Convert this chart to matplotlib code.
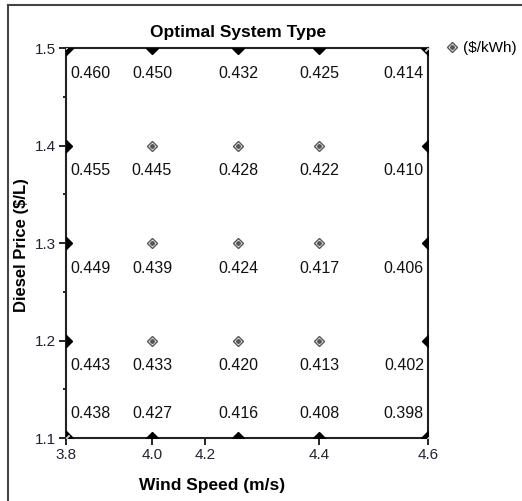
# -*- coding: utf-8 -*-

# %%
import numpy as np
import matplotlib.pyplot as plt
from matplotlib.lines import Line2D


# %% Data ---------------------------------------------------------------------
wind_speed = [3.8, 3.99, 4.18, 4.36, 4.6]          # m/s, sensitivity points
diesel_price = [1.5, 1.4, 1.3, 1.2, 1.1]           # $/L, rows top to bottom
coe = [[0.460, 0.450, 0.432, 0.425, 0.414],        # $/kWh
       [0.455, 0.445, 0.428, 0.422, 0.410],
       [0.449, 0.439, 0.424, 0.417, 0.406],
       [0.443, 0.433, 0.420, 0.413, 0.402],
       [0.438, 0.427, 0.416, 0.408, 0.398]]
# system type at each point: C corner, E edge, I interior
sys_type = ['CEEEC',
            'EIIIE',
            'EIIIE',
            'EIIIE',
            'CEEEC']
xtick_pos = [3.8, 3.99, 4.107, 4.36, 4.6]
xtick_lab = ['3.8', '4.0', '4.2', '4.4', '4.6']
ytick_pos = [1.1, 1.2, 1.3, 1.4, 1.5]


# %% Figure -------------------------------------------------------------------
plt.rcParams['font.family'] = ['Liberation Sans', 'DejaVu Sans']
W, H = 522, 501
fig = plt.figure(figsize=(W/100, H/100), dpi=100)
ax = fig.add_axes([66/W, 63/H, 362/W, 390/H])
ax.set_xlim(3.8, 4.6)
ax.set_ylim(1.1, 1.5)

X, Y = np.meshgrid(wind_speed, diesel_price)
T = np.array([list(r) for r in sys_type])

# edge points: black diamonds, clipped by the frame
m = T == 'E'
ax.plot(X[m], Y[m], 'D', color='black', ms=6.2, zorder=3)
# corner points: black diamonds with a light stripe
m = T == 'C'
ax.plot(X[m], Y[m], 'D', color='black', ms=7, zorder=3)
ax.plot(X[m], Y[m], marker=(2, 2, -45), ls='none', mec='#bbbbbb', mew=1.0,
        ms=6, zorder=3.5)
# interior points
m = T == 'I'
ax.plot(X[m], Y[m], 'D', mfc='white', mec='#555555', mew=1.0, ms=5, zorder=3)
ax.plot(X[m], Y[m], 'D', color='#555555', ms=2.2, zorder=4)

# value labels
for i, yv in enumerate(diesel_price):
    dy = 25 if i == len(diesel_price) - 1 else -25
    for j, xv in enumerate(wind_speed):
        if j == 0:
            dx, ha = 4, 'left'
        elif j == len(wind_speed) - 1:
            dx, ha = -4, 'right'
        else:
            dx, ha = 0, 'center'
        ax.annotate(f'{coe[i][j]:.3f}', (xv, yv), xytext=(dx, dy),
                    textcoords='offset pixels', ha=ha, va='center',
                    fontsize=11.5, color='#111111')

# axes styling
for s in ax.spines.values():
    s.set_linewidth(1.5)
    s.set_color('#222222')
ax.set_xticks(xtick_pos, xtick_lab)
ax.set_yticks(ytick_pos, [f'{v:.1f}' for v in ytick_pos])
ax.set_yticks(np.arange(1.15, 1.5, 0.1), minor=True)
ax.tick_params(axis='both', which='major', direction='out', length=5,
               width=1.2, labelsize=11, labelcolor='#222233', pad=2)
ax.tick_params(axis='y', which='minor', direction='out', length=2.5, width=1.2)

# texts
fig.text(238/W, 1 - 37/H, 'Optimal System Type', ha='center', va='baseline',
         fontsize=12.5, fontweight='bold')
fig.text(212/W, 1 - 490/H, 'Wind Speed (m/s)', ha='center', va='baseline',
         fontsize=12.5, fontweight='bold')
fig.text(22/W, 1 - 245/H, 'Diesel Price ($/L)', ha='center', va='center',
         rotation=90, fontsize=12, fontweight='bold')

# legend
h1 = Line2D([], [], marker='D', ls='none', mfc='white', mec='#555555', mew=1.0, ms=5)
h2 = Line2D([], [], marker='D', ls='none', color='#555555', ms=2.2)
fig.legend([(h1, h2)], ['($/kWh)'], loc='center left',
           bbox_to_anchor=(446/W, 1 - 48/H), frameon=False, fontsize=11,
           handlelength=0.8, handletextpad=0.3, borderpad=0, borderaxespad=0)

# outer frame (left and top edges visible)
fig.add_artist(Line2D([8/W, 8/W], [0, 1 - 5/H], color='#444444', lw=1.5))
fig.add_artist(Line2D([8/W, 1], [1 - 5/H, 1 - 5/H], color='#444444', lw=1.5))

fig.savefig('out.png', dpi=100)
